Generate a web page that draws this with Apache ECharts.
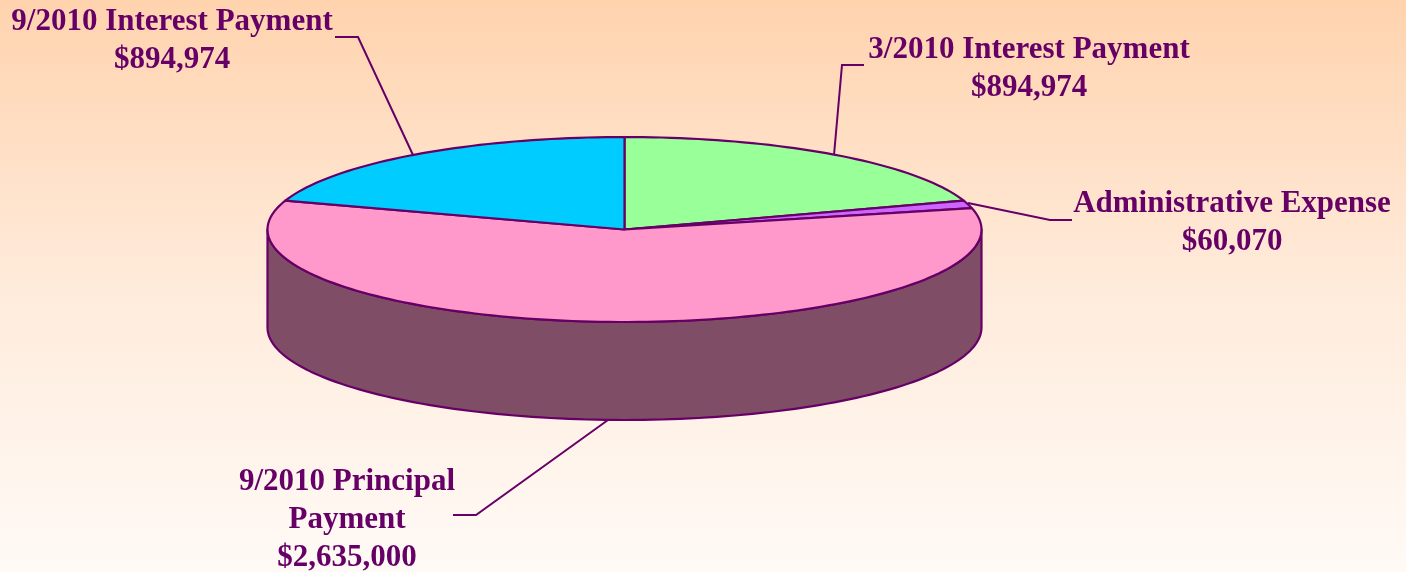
<!DOCTYPE html>
<html><head><meta charset="utf-8">
<style>html,body{margin:0;padding:0;background:#fff}#c{width:1406px;height:572px}</style>
<script src="https://cdn.jsdelivr.net/npm/echarts@6/dist/echarts.min.js"></script>
</head><body><div id="c"></div>
<script>
const categories = ['3/2010 Interest Payment','Administrative Expense','9/2010 Principal\nPayment','9/2010 Interest Payment'];
const values = [894974, 60070, 2635000, 894974];
const topColors = ['#99FF99','#CC66FF','#FF99CC','#00CCFF'];
const sideColors = ['#4D804D','#663380','#804D66','#006680'];

// Layout of the tilted pie and its call-outs (page pixels)
const CX = 624.5, CY = 229.5, RX = 357, RY = 92.5, DEPTH = 98;
const INK = '#660066';
const labelCenters = [[1029,50],[1232,204],[347,482],[172,22]];
const leaders = [
  [[864,65],[842,65],[834,155]],
  [[968,203],[1050,220],[1072,220]],
  [[608,420],[476,515],[453,515]],
  [[335,37],[358,37],[413,155]]
];
const total = values.reduce((a,b)=>a+b,0);
const fmt = v => '$' + v.toLocaleString('en-US');
const pt = (deg, dy=0) => {
  const r = deg*Math.PI/180;
  return [CX + RX*Math.sin(r), CY - RY*Math.cos(r) + dy];
};
function arc(a0,a1,dy=0){
  const out=[]; const n=Math.max(2,Math.ceil((a1-a0)/1.5));
  for(let i=0;i<=n;i++) out.push(pt(a0+(a1-a0)*i/n,dy));
  return out;
}
const starts = values.map((_,i)=>values.slice(0,i).reduce((a,b)=>a+b,0)/total*360);

const renderSide = (params) => {
  const i=params.dataIndex;
  const a0=starts[i], a1=a0+values[i]/total*360;
  const s=Math.max(a0,90), e=Math.min(a1,270);
  if(e<=s) return {type:'group',children:[]};
  return {type:'polygon',shape:{points:arc(s,e,0).concat(arc(s,e,DEPTH).reverse())},
    style:{fill:sideColors[i],stroke:INK,lineWidth:2.2,lineJoin:'round'}};
};
const renderTop = (params) => {
  const i=params.dataIndex;
  const a0=starts[i], a1=a0+values[i]/total*360;
  return {type:'polygon',shape:{points:[[CX,CY]].concat(arc(a0,a1))},
    style:{fill:topColors[i],stroke:INK,lineWidth:2.2,lineJoin:'round'}};
};
const renderLabel = (params) => {
  const i=params.dataIndex;
  const [x,y]=labelCenters[i];
  const lines=categories[i].split('\n').concat([fmt(values[i])]);
  return {type:'group',children:[
    {type:'polyline',shape:{points:leaders[i]},style:{fill:'none',stroke:INK,lineWidth:2}},
    ...lines.map((t,k)=>({type:'text',style:{x,y:y+k*38,text:t,fill:INK,
      font:'bold 31px "Liberation Serif"',align:'center',verticalAlign:'middle'}}))
  ]};
};
const seriesData = values.map((v,i)=>({name:categories[i],value:v}));
const chart = echarts.init(document.getElementById('c'),null,{renderer:'canvas',width:1406,height:572});
chart.setOption({
  animation:false,
  backgroundColor:{type:'linear',x:0,y:0,x2:0,y2:1,colorStops:[
    {offset:0,color:'#FFD3AE'},{offset:0.5,color:'#FFEBDB'},{offset:1,color:'#FFFAF6'}]},
  series:[
    {type:'custom',coordinateSystem:'none',renderItem:renderSide,data:seriesData,silent:true,z:1},
    {type:'custom',coordinateSystem:'none',renderItem:renderTop,data:seriesData,silent:true,z:2},
    {type:'custom',coordinateSystem:'none',renderItem:renderLabel,data:seriesData,silent:true,z:3}
  ]
});
</script></body></html>
